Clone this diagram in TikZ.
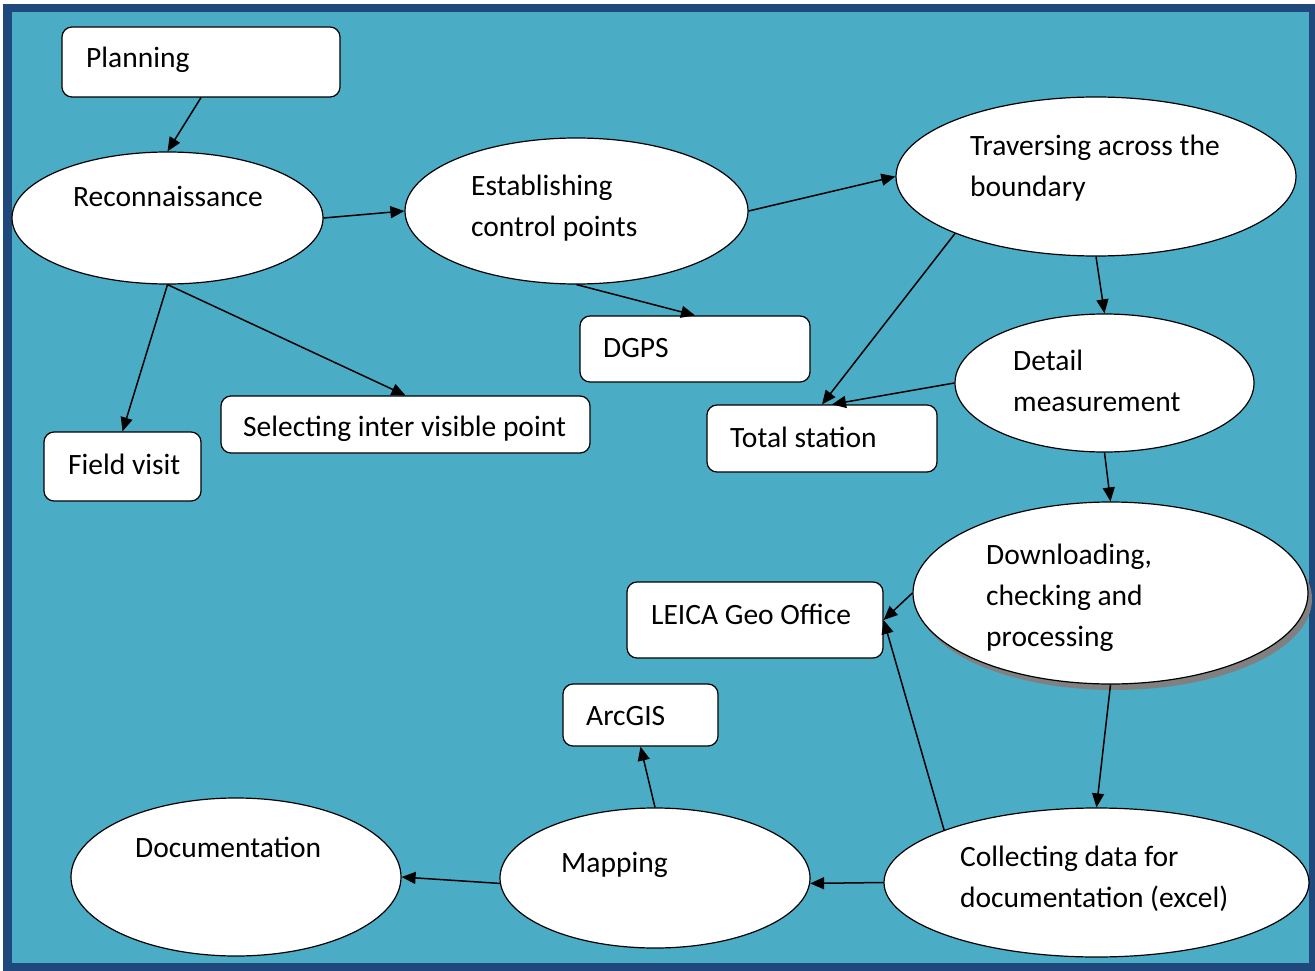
\documentclass[tikz,border=0pt]{standalone}
\usepackage{fontspec}
\setmainfont{Carlito}
\usetikzlibrary{shapes.geometric,arrows.meta,shadows}

\definecolor{framecol}{HTML}{1F497D}
\definecolor{panelcol}{HTML}{4BACC6}
\definecolor{shadowcol}{HTML}{808080}

\tikzset{
  every picture/.style={x=1pt,y=-1pt},
  oval/.style={ellipse, draw=black, line width=1.2pt, fill=white, inner sep=0pt},
  card/.style={rectangle, rounded corners=10pt, draw=black, line width=1.2pt, fill=white, inner sep=0pt},
  lbl/.style={anchor=base west, inner sep=0pt, text=black,
              font=\fontsize{29.5}{41}\selectfont},
  flow/.style={line width=1.5pt, -{Triangle[length=14pt,width=12pt]}},
}

\newcommand{\lines}[1]{\begin{tabular}[t]{@{}l@{}}#1\end{tabular}}

\begin{document}
\begin{tikzpicture}
\useasboundingbox (0,0) rectangle (1315,971);
\fill[white] (0,0) rectangle (1315,971);
\fill[framecol] (3,4) rectangle (1315,971);
\fill[panelcol] (12,12) rectangle (1309,963);

% boxes
\node[card, minimum width=278pt, minimum height=70pt] (plan) at (201,62) {};
\node[card, minimum width=230pt, minimum height=66pt] (dgps) at (695,349) {};
\node[card, minimum width=369pt, minimum height=57pt] (sel) at (405.5,424.5) {};
\node[card, minimum width=157pt, minimum height=69pt] (field) at (122.5,466.5) {};
\node[card, minimum width=230pt, minimum height=67pt] (total) at (822,438.5) {};
\node[card, minimum width=256pt, minimum height=76pt] (leica) at (755,620) {};
\node[card, minimum width=155pt, minimum height=62pt] (arc) at (640.5,715) {};

% ellipses
\node[oval, minimum width=311pt, minimum height=132pt] (recon) at (167.5,218) {};
\node[oval, minimum width=343pt, minimum height=146pt] (est) at (576.5,211) {};
\node[oval, minimum width=400pt, minimum height=159pt] (trav) at (1096,176.5) {};
\node[oval, minimum width=299pt, minimum height=138pt] (detail) at (1104.5,383) {};
\node[oval, minimum width=395pt, minimum height=182pt,
      drop shadow={shadow xshift=4pt, shadow yshift=-6pt, fill=shadowcol, opacity=1}] (down) at (1110.5,593) {};
\node[oval, minimum width=310pt, minimum height=140pt] (map) at (655,878) {};
\node[oval, minimum width=425pt, minimum height=149pt] (coll) at (1096.5,882.5) {};
\node[oval, minimum width=330pt, minimum height=158pt] (doc) at (236,877) {};

% labels
\node[lbl] (plan-t) at (86,68) {Planning};
\node[lbl] (recon-t) at (73,207) {Reconnaissance};
\node[lbl] (est-t) at (471,195) {\lines{Establishing\\control points}};
\node[lbl] (trav-t) at (970,156) {\lines{Traversing across the\\boundary}};
\node[lbl] (dgps-t) at (603,357) {DGPS};
\node[lbl] (sel-t) at (243,436) {Selecting inter visible point};
\node[lbl] (field-t) at (68,474) {Field visit};
\node[lbl] (total-t) at (730,447) {Total station};
\node[lbl] (detail-t) at (1013,370) {\lines{Detail\\measurement}};
\node[lbl] (down-t) at (986,564) {\lines{Downloading,\\checking and\\processing}};
\node[lbl] (leica-t) at (651,624) {LEICA Geo Office};
\node[lbl] (arc-t) at (586,725) {ArcGIS};
\node[lbl] (map-t) at (561,872) {Mapping};
\node[lbl] (coll-t) at (960,866) {\lines{Collecting data for\\documentation (excel)}};
\node[lbl] (doc-t) at (135,857) {Documentation};

% connectors
\draw[flow] (plan.south) -- (recon.north);
\draw[flow] (recon.east) -- (est.west);
\draw[flow] (recon.south) -- (field.north);
\draw[flow] (recon.south) -- (sel.north);
\draw[flow] (est.south) -- (dgps.north);
\draw[flow] (est.east) -- (trav.west);
\draw[flow] (trav.202) -- (total.north);
\draw[flow] (detail.west) -- ([xshift=10pt]total.north);
\draw[flow] (trav.south) -- (detail.north);
\draw[flow] (detail.south) -- (down.north);
\draw[flow] (down.west) -- (leica.east);
\draw[flow] (down.south) -- (coll.north);
\draw[flow] (coll.161) -- (leica.east);
\draw[flow] (coll.west) -- (map.-2);
\draw[flow] (map.north) -- (arc.south);
\draw[flow] (map.182) -- (doc.east);
\end{tikzpicture}
\end{document}
